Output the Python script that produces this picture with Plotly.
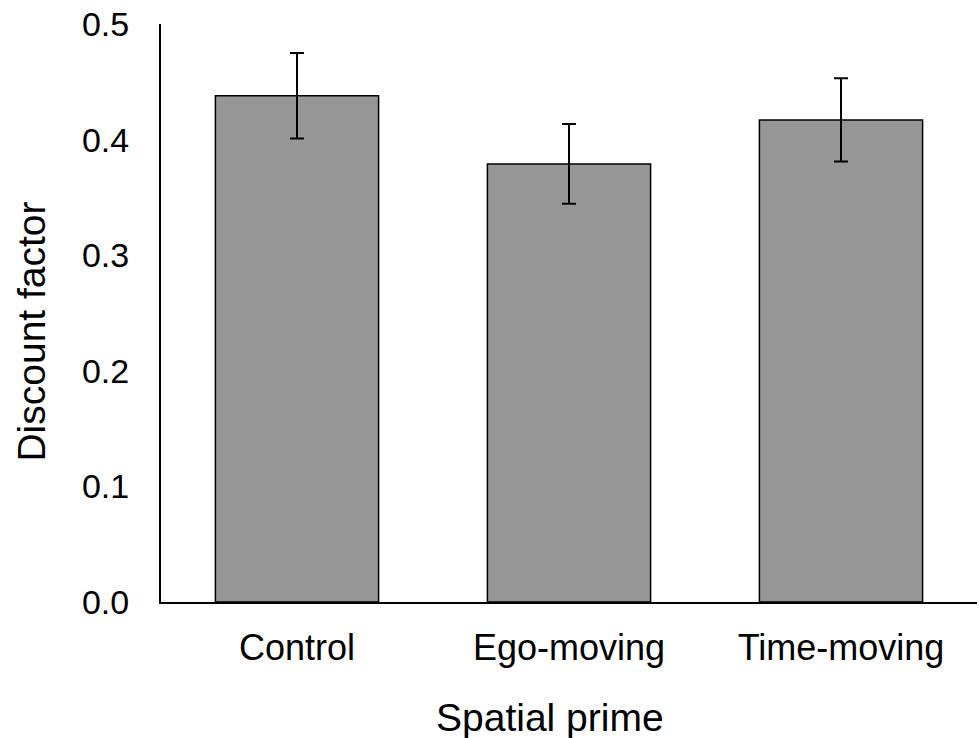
import plotly.graph_objects as go

categories = ["Control", "Ego-moving", "Time-moving"]
means = [0.438, 0.379, 0.417]
errors = [0.037, 0.0345, 0.036]
y_ticks = [0.0, 0.1, 0.2, 0.3, 0.4, 0.5]
y_tick_labels = ["0.0", "0.1", "0.2", "0.3", "0.4", "0.5"]
x_title = "Spatial prime"
y_title = "Discount factor"

fig = go.Figure(go.Bar(
    x=categories, y=means,
    marker=dict(color="#969696", line=dict(color="black", width=1.5)),
    error_y=dict(type="data", array=errors, visible=True, color="black", thickness=2, width=7),
    width=0.6,
))

font = "Liberation Sans, Arial, sans-serif"
fig.update_layout(
    width=979, height=738,
    margin=dict(l=161, r=2, t=24, b=136),
    paper_bgcolor="white", plot_bgcolor="white",
    showlegend=False,
    font=dict(family=font, size=34, color="black"),
    xaxis=dict(
        showline=True, linecolor="black", linewidth=2,
        ticks="", ticklabelstandoff=13, tickfont=dict(size=36),
        showgrid=False,
    ),
    yaxis=dict(
        range=[0, 0.5], tickvals=y_ticks, ticktext=y_tick_labels,
        showline=True, linecolor="black", linewidth=2,
        ticks="", ticklabelstandoff=23,
        showgrid=False, zeroline=False,
    ),
    annotations=[
        dict(text=x_title, x=0.4767, xref="paper", y=-0.199, yref="paper",
             xanchor="center", yanchor="middle", showarrow=False, font=dict(size=39)),
        dict(text=y_title, x=-0.1587, xref="paper", y=0.467, yref="paper", textangle=-90,
             xanchor="center", yanchor="middle", showarrow=False, font=dict(size=39)),
    ],
)

fig.write_html("out.html", config={"displayModeBar": False},
               post_script="document.body.style.margin='0';")
